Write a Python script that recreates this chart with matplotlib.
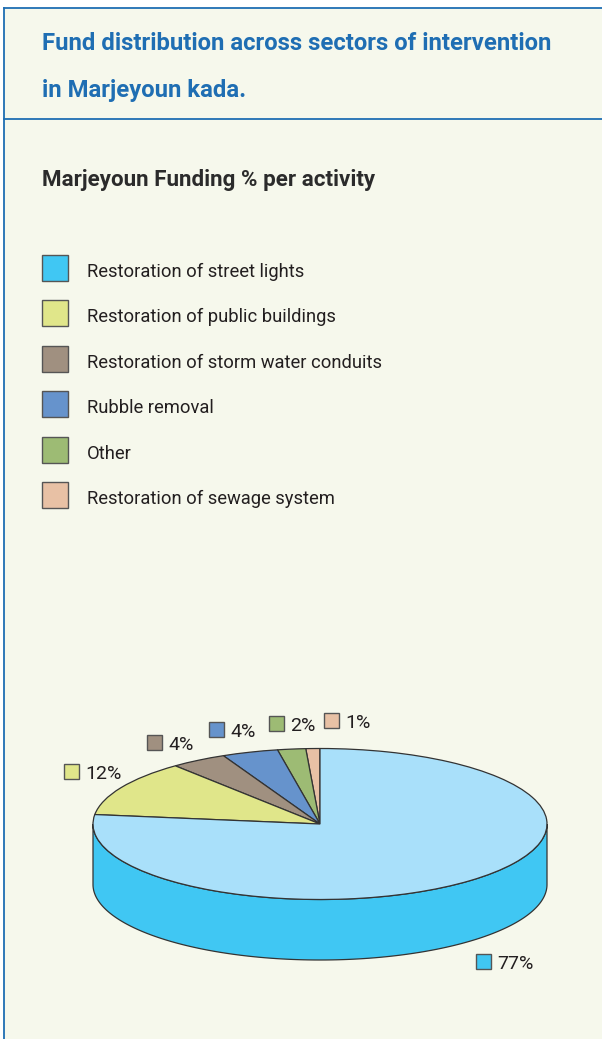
import matplotlib
matplotlib.use("Agg")
import matplotlib.pyplot as plt
import numpy as np
from matplotlib.patches import Wedge, Rectangle, Polygon
from matplotlib.transforms import Affine2D

# data (legend order)
labels = ["Restoration of street lights", "Restoration of public buildings",
          "Restoration of storm water conduits", "Rubble removal", "Other",
          "Restoration of sewage system"]
shares = [77, 12, 4, 4, 2, 1]
colors = ["#40C7F3", "#E0E68A", "#A09080", "#6693CC", "#9DBB74", "#E8C1A5"]
top_face = ["#A9E0FA", "#E0E68A", "#A09080", "#6693CC", "#9DBB74", "#E8C1A5"]

title1 = "Fund distribution across sectors of intervention"
title2 = "in Marjeyoun kada."
subtitle = "Marjeyoun Funding % per activity"

bg = "#F6F8EC"
blue = "#1F6EB3"
ink = "#231F20"
edge = "#333333"
font = ["Roboto", "DejaVu Sans"]

fig = plt.figure(figsize=(6.02, 10.39), dpi=100)
fig.patch.set_facecolor("white")
ax = fig.add_axes([0, 0, 1, 1])
ax.set_xlim(0, 602)
ax.set_ylim(1039, 0)
ax.axis("off")
renderer = fig.canvas.get_renderer()


def fit(t, width):
    # shrink/grow a text so it spans the given pixel width
    w = t.get_window_extent(renderer).width
    t.set_fontsize(t.get_fontsize() * width / w)
    return t.get_fontsize()


# panel and frame
ax.add_patch(Rectangle((4, 8), 610, 1040, facecolor=bg, edgecolor="none"))
ax.plot([4, 602], [8, 8], color=blue, lw=1.3)
ax.plot([4, 4], [8, 1039], color=blue, lw=1.3)
ax.plot([4, 602], [118.5, 118.5], color=blue, lw=1.3)

t1 = ax.text(42, 50, title1, family=font, fontweight="bold", fontsize=20,
             color=blue, va="baseline")
fs = fit(t1, 508)
ax.text(42, 97, title2, family=font, fontweight="bold", fontsize=fs,
        color=blue, va="baseline")
st = ax.text(42, 186, subtitle, family=font, fontweight="bold", fontsize=15,
             color="#2B2B2B", va="baseline")
fit(st, 334)

# legend
leg_texts = []
for i, (lab, c) in enumerate(zip(labels, colors)):
    y0 = 255 + i * 45.4
    ax.add_patch(Rectangle((42, y0), 26, 26, facecolor=c, edgecolor="#555555", lw=1))
    leg_texts.append(ax.text(87, y0 + 22, lab, family=font, fontsize=14,
                             color=ink, va="baseline"))
lfs = fit(leg_texts[2], 296)
for t in leg_texts:
    t.set_fontsize(lfs)

# 3D-looking pie
cx, cy, rx, ry, depth = 320, 824, 227, 75.5, 60.5
t = np.linspace(np.pi, 2 * np.pi, 200)
xs = cx + rx * np.cos(t)
ys = cy - ry * np.sin(t)
side = np.concatenate([np.column_stack([xs, ys]),
                       np.column_stack([xs[::-1], ys[::-1] + depth])])
ax.add_patch(Polygon(side, closed=True, facecolor=colors[0], edgecolor=edge, lw=0.9))

tr = Affine2D().scale(rx, -ry).translate(cx, cy) + ax.transData
start = 90.0
for i in range(len(shares) - 1, -1, -1):
    span = shares[i] / sum(shares) * 360
    w = Wedge((0, 0), 1, start, start + span, facecolor=top_face[i],
              edgecolor=edge, lw=0.9, transform=tr)
    ax.add_patch(w)
    start += span

# value labels
label_pos = [(476, 954), (64, 764), (147, 735), (209, 722), (269, 716), (324, 713)]
val_texts = []
for (x0, y0), v, c in zip(label_pos, shares, colors):
    ax.add_patch(Rectangle((x0, y0), 15, 15, facecolor=c, edgecolor="#555555", lw=1))
    val_texts.append(ax.text(x0 + 21, y0 + 15, f"{v}%", family=font, fontsize=13,
                             color=ink, va="baseline"))
vfs = fit(val_texts[1], 36)
for t in val_texts:
    t.set_fontsize(vfs)

fig.savefig("out.png", dpi=100, facecolor=fig.get_facecolor())
